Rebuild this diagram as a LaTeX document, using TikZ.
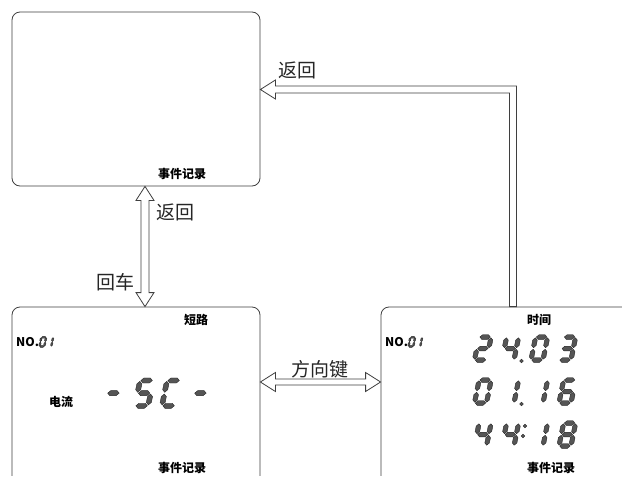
\documentclass[tikz,border=0pt]{standalone}
\usepackage{fontspec}
\newfontfamily\cjk{Noto Sans CJK SC}
\usepackage{tikz}
\usetikzlibrary{positioning}
\usetikzlibrary{calc}

\definecolor{linec}{HTML}{3F3F3F}
\definecolor{segc}{HTML}{555555}

% seven segment pieces, local units, y up
\newcommand{\segw}{2.3}
\newcommand{\hseg}[3]{\filldraw[segm] (#1,#3) -- (#1+\segw,#3+\segw) -- (#2-\segw,#3+\segw) -- (#2,#3) -- (#2-\segw,#3-\segw) -- (#1+\segw,#3-\segw) -- cycle;}
\newcommand{\vseg}[3]{\filldraw[segm] (#1,#2) -- (#1+\segw,#2-\segw) -- (#1+\segw,#3+\segw) -- (#1,#3) -- (#1-\segw,#3+\segw) -- (#1-\segw,#2-\segw) -- cycle;}
\newcommand{\segA}{\hseg{0.8}{11.2}{23}}
\newcommand{\segB}{\vseg{12}{22.2}{12.3}}
\newcommand{\segC}{\vseg{12}{10.7}{0.8}}
\newcommand{\segD}{\hseg{0.8}{11.2}{0}}
\newcommand{\segE}{\vseg{0}{10.7}{0.8}}
\newcommand{\segF}{\vseg{0}{22.2}{12.3}}
\newcommand{\segG}{\hseg{0.8}{11.2}{11.5}}
\newcommand{\lcd}[3][1]{%
  \begin{scope}[shift={#2}, x=#1pt, y=#1pt, xslant=0.2]
    \foreach \s in {#3} {\csname seg\s\endcsname}
  \end{scope}}
\newcommand{\lcddot}[1]{\filldraw[segm] #1 circle (1.9pt);}

\begin{document}
\begin{tikzpicture}[x=1pt, y=-1pt]
% -------------------------------------------------
\tikzset{
  panel/.style={draw=linec, line width=0.8pt, rounded corners=8pt, inner sep=0pt},
  fat/.style={draw=linec, line width=0.8pt, fill=white, line join=miter},
  lbl/.style={font=\cjk\fontsize{19}{19}\selectfont, text=black!85, inner sep=0pt},
  tag/.style={font=\cjk\bfseries\fontsize{12}{12}\selectfont, inner sep=0pt},
  segm/.style={fill=segc, draw=black!85, line width=0.4pt, line join=miter}
}
% -------------------------------------------------
\useasboundingbox (0,0) rectangle (622,477);
\clip (0,0) rectangle (622,475);

% Placing the panels
\node [panel, minimum width=248pt, minimum height=174pt] (evt) at (136,99) {};
\node [panel, minimum width=248pt, minimum height=188pt] (sc) at (136,401) {};
\node [panel, minimum width=259pt, minimum height=188pt] (tm) at (510.5,401) {};

% panel texts
\node [tag] (evt1) at (182,174) {事件记录};
\node [tag] (sc1) at (196,320) {短路};
\node [tag, anchor=west] (sc2) at (16,342) {NO.};
\node [tag] (sc3) at (61,402) {电流};
\node [tag] (sc4) at (182,468) {事件记录};
\node [tag] (tm1) at (539,320) {时间};
\node [tag, anchor=west] (tm2) at (385,342) {NO.};
\node [tag] (tm3) at (551,468) {事件记录};

% digits
\lcd[0.4]{(39.5,346.5)}{A,B,C,D,E,F}
\lcd[0.4]{(46.5,346.5)}{B,C}
\lcd[0.4]{(408.5,346.5)}{A,B,C,D,E,F}
\lcd[0.4]{(415.5,346.5)}{B,C}

\lcd[1.1]{(104.3,405.8)}{G}
\lcd[1.1]{(135,405.8)}{A,F,G,C,D}
\lcd[1.1]{(162,405.8)}{A,F,E,D}
\lcd[1.1]{(191.3,405.8)}{G}

\lcd{(474.5,360)}{A,B,G,E,D}
\lcd{(502,360)}{F,G,B,C}
\lcddot{(521.5,361)}
\lcd{(531,360)}{A,B,C,D,E,F}
\lcd{(559,360)}{A,B,G,C,D}

\lcd{(474.5,403)}{A,B,C,D,E,F}
\lcd{(502,403)}{B,C}
\lcddot{(521.5,404)}
\lcd{(531,403)}{B,C}
\lcd{(559,403)}{A,F,G,E,D,C}

\lcd{(474.5,446)}{F,G,B,C}
\lcd{(502,446)}{F,G,B,C}
\lcddot{(525,426)}
\lcddot{(523,436)}
\lcd{(531,446)}{B,C}
\lcd{(559,446)}{A,B,C,D,E,F,G}

% connectors
\coordinate (v1) at ($(evt.south)+(9,0)$);
\coordinate (v2) at (v1 |- sc.north);
\draw [fat] (v1) -- ++(9,14) -- ++(-5,0) -- ($(v2)+(4,-14)$) -- ++(5,0) -- (v2)
  -- ++(-9,-14) -- ++(5,0) -- ($(v1)+(-4,14)$) -- ++(-5,0) -- cycle;

\coordinate (h1) at ($(sc.east)+(0,-19)$);
\coordinate (h2) at (h1 -| tm.west);
\draw [fat] (h1) -- ++(15,-9.5) -- ++(0,6.5) -- ($(h2)+(-15,-3)$) -- ++(0,-6.5) -- (h2)
  -- ++(-15,9.5) -- ++(0,-6.5) -- ($(h1)+(15,3)$) -- ++(0,6.5) -- cycle;

\coordinate (bend) at (513,89.5);
\coordinate (tip) at (bend -| evt.east);
\coordinate (base) at (bend |- tm.north);
\draw [fat] (tip) -- ++(15,-9.5) -- ++(0,6) -- ($(bend)+(3.5,-3.5)$) -- ($(base)+(3.5,0)$)
  -- ($(base)+(-3.5,0)$) -- ($(bend)+(-3.5,3.5)$) -- ($(tip)+(15,3.5)$) -- ++(0,6) -- cycle;

% connector labels
\node [lbl] (back1) at (297,70) {返回};
\node [lbl] (back2) at (175,212) {返回};
\node [lbl] (enter) at (115,282) {回车};
\node [lbl] (dirkey) at (320,369) {方向键};

\end{tikzpicture}
\end{document}
